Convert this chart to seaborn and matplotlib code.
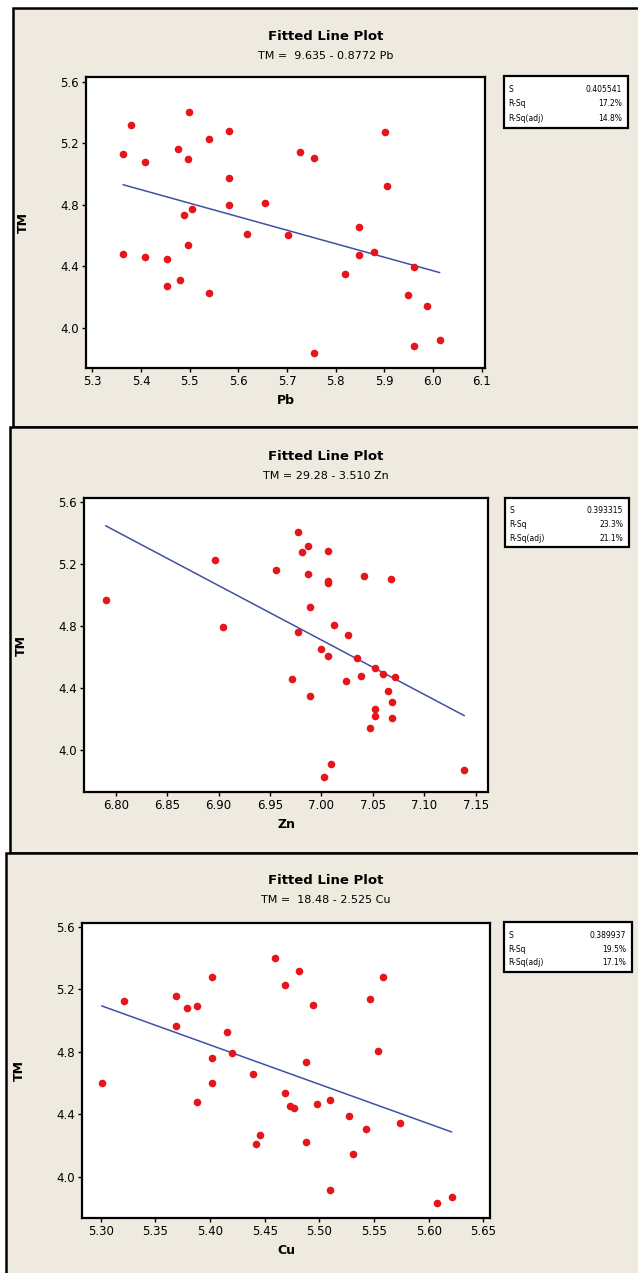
import numpy as np
import pandas as pd
import matplotlib
matplotlib.use("Agg")
import matplotlib.pyplot as plt
import seaborn as sns
from matplotlib.patches import Rectangle

# data
pb = [5.363, 5.380, 5.363, 5.409, 5.409, 5.453, 5.453, 5.480, 5.476, 5.498,
      5.497, 5.488, 5.505, 5.497, 5.539, 5.539, 5.581, 5.581, 5.581, 5.617,
      5.654, 5.702, 5.727, 5.756, 5.756, 5.819, 5.849, 5.849, 5.878, 5.901,
      5.905, 5.949, 5.962, 5.962, 5.988, 6.014]
tm_pb = [5.131, 5.321, 4.482, 5.081, 4.461, 4.448, 4.270, 4.309, 5.165, 5.403,
         5.096, 4.733, 4.772, 4.541, 5.226, 4.227, 5.282, 4.973, 4.796, 4.612,
         4.811, 4.605, 5.146, 5.103, 3.838, 4.352, 4.659, 4.476, 4.493, 5.276,
         4.925, 4.214, 4.393, 3.881, 4.145, 3.920]

zn = [6.790, 6.896, 6.904, 6.956, 6.977, 6.981, 6.987, 6.977, 6.987, 6.989,
      6.971, 6.989, 7.000, 7.006, 7.006, 7.006, 7.006, 7.012, 7.026, 7.024,
      7.035, 7.038, 7.041, 7.052, 7.060, 7.072, 7.065, 7.069, 7.069, 7.068,
      7.052, 7.052, 7.047, 7.002, 7.009, 7.139]
tm_zn = [4.967, 5.227, 4.792, 5.159, 5.406, 5.275, 5.316, 4.765, 5.139, 4.926,
         4.457, 4.349, 4.655, 5.281, 5.092, 5.077, 4.607, 4.805, 4.743, 4.444,
         4.592, 4.478, 5.124, 4.532, 4.491, 4.469, 4.383, 4.308, 4.205, 5.105,
         4.267, 4.220, 4.144, 3.828, 3.910, 3.875]

cu = [5.301, 5.321, 5.369, 5.369, 5.379, 5.388, 5.388, 5.402, 5.402, 5.402,
      5.416, 5.420, 5.439, 5.442, 5.446, 5.459, 5.469, 5.469, 5.473, 5.477,
      5.481, 5.488, 5.488, 5.494, 5.498, 5.510, 5.510, 5.527, 5.531, 5.543,
      5.546, 5.554, 5.558, 5.574, 5.608, 5.621]
tm_cu = [4.604, 5.129, 5.156, 4.966, 5.082, 5.097, 4.480, 5.278, 4.764, 4.604,
         4.928, 4.794, 4.657, 4.211, 4.265, 5.399, 5.227, 4.538, 4.454, 4.442,
         5.318, 4.738, 4.224, 5.103, 4.467, 4.495, 3.915, 4.388, 4.145, 4.307,
         5.141, 4.806, 5.278, 4.346, 3.834, 3.872]

names = ["Pb", "Zn", "Cu"]
intercepts = [9.635, 29.28, 18.48]
slopes = [-0.8772, -3.510, -2.525]
equations = ["TM =  9.635 - 0.8772 Pb", "TM = 29.28 - 3.510 Zn", "TM =  18.48 - 2.525 Cu"]
s_vals = ["0.405541", "0.393315", "0.389937"]
rsq = ["17.2%", "23.3%", "19.5%"]
rsq_adj = ["14.8%", "21.1%", "17.1%"]
xticks = [[5.3, 5.4, 5.5, 5.6, 5.7, 5.8, 5.9, 6.0, 6.1],
          [6.80, 6.85, 6.90, 6.95, 7.00, 7.05, 7.10, 7.15],
          [5.30, 5.35, 5.40, 5.45, 5.50, 5.55, 5.60, 5.65]]
xfmt = ["%.1f", "%.2f", "%.2f"]
yticks = [4.0, 4.4, 4.8, 5.2, 5.6]

xs = [pb, zn, cu]
ys = [tm_pb, tm_zn, tm_cu]

sns.set_theme(style="white")
plt.rcParams['font.family'] = ['Liberation Sans Narrow', 'DejaVu Sans']
plt.rcParams['text.color'] = 'black'
plt.rcParams['axes.labelcolor'] = 'black'

W, H = 638, 1273
fig = plt.figure(figsize=(W / 100, H / 100), dpi=100)
fig.patch.set_facecolor("white")

def fx(px):
    return px / W

def fy(py):
    return 1 - py / H

beige = "#eeeae0"
# panel boxes: (left, top, bottom) in pixels
boxes = [(13, 8, 427), (10, 427, 853), (6, 853, 1300)]
# axes rectangles: (left, right, top, bottom)
axrects = [(86, 485, 77, 368), (84, 488, 498, 792), (82, 490, 923, 1218)]
xlims = [(5.287, 6.107), (6.769, 7.162), (5.283, 5.656)]
ylims = [(3.74, 5.63), (3.73, 5.626), (3.736, 5.626)]
titles_y = [37, 457, 881]
tables = [(504, 628, 76, 128), (505, 629, 498, 547), (504, 632, 922, 972)]

for i in range(3):
    l, t, b = boxes[i]
    fig.add_artist(Rectangle((fx(l), fy(b)), fx(700 - l), (b - t) / H,
                             transform=fig.transFigure, facecolor=beige,
                             edgecolor="black", lw=1.8, zorder=0))

    al, ar, at, ab = axrects[i]
    ax = fig.add_axes([fx(al), fy(ab), fx(ar - al), (ab - at) / H])
    ax.set_facecolor("white")
    df = pd.DataFrame({"x": xs[i], "TM": ys[i]})
    sns.scatterplot(data=df, x="x", y="TM", ax=ax, color="#e8141c",
                    s=30, linewidth=0, marker="o", zorder=3)
    xline = np.array([df["x"].min(), df["x"].max()])
    fit = pd.DataFrame({"x": xline, "TM": intercepts[i] + slopes[i] * xline})
    sns.lineplot(data=fit, x="x", y="TM", ax=ax, color="#3f51a3", lw=1.1)

    ax.set_xlim(*xlims[i])
    ax.set_ylim(*ylims[i])
    ax.set_xticks(xticks[i])
    ax.set_xticklabels([xfmt[i] % v for v in xticks[i]])
    ax.set_yticks(yticks)
    ax.set_yticklabels(["%.1f" % v for v in yticks])
    ax.tick_params(axis="both", direction="out", length=3, width=1,
                   labelsize=8.5, pad=2, colors="black", bottom=True, left=True)
    for sp in ax.spines.values():
        sp.set_color("black")
        sp.set_linewidth(1.6)
    ax.set_xlabel(names[i], fontsize=9, fontweight="bold", labelpad=4)
    ax.set_ylabel("TM", fontsize=9, fontweight="bold", labelpad=22)

    ty = titles_y[i]
    fig.text(fx(326), fy(ty), "Fitted Line Plot", ha="center", va="center",
             fontsize=9.5, fontweight="bold")
    fig.text(fx(326), fy(ty + 19), equations[i], ha="center", va="center",
             fontsize=8)

    tl, tr, tt, tb = tables[i]
    fig.add_artist(Rectangle((fx(tl), fy(tb)), fx(tr - tl), (tb - tt) / H,
                             transform=fig.transFigure, facecolor="white",
                             edgecolor="black", lw=1.6, zorder=2))
    rows = [("S", s_vals[i]), ("R-Sq", rsq[i]), ("R-Sq(adj)", rsq_adj[i])]
    step = (tb - tt) / 3.6
    for k, (lab, val) in enumerate(rows):
        yy = tt + step * (0.8 + k * 1.0) + 2
        fig.text(fx(tl + 4), fy(yy), lab, ha="left", va="center",
                 fontsize=5.5, zorder=3)
        fig.text(fx(tr - 6), fy(yy), val, ha="right", va="center",
                 fontsize=5.5, zorder=3)

fig.savefig("out.png", dpi=100)
